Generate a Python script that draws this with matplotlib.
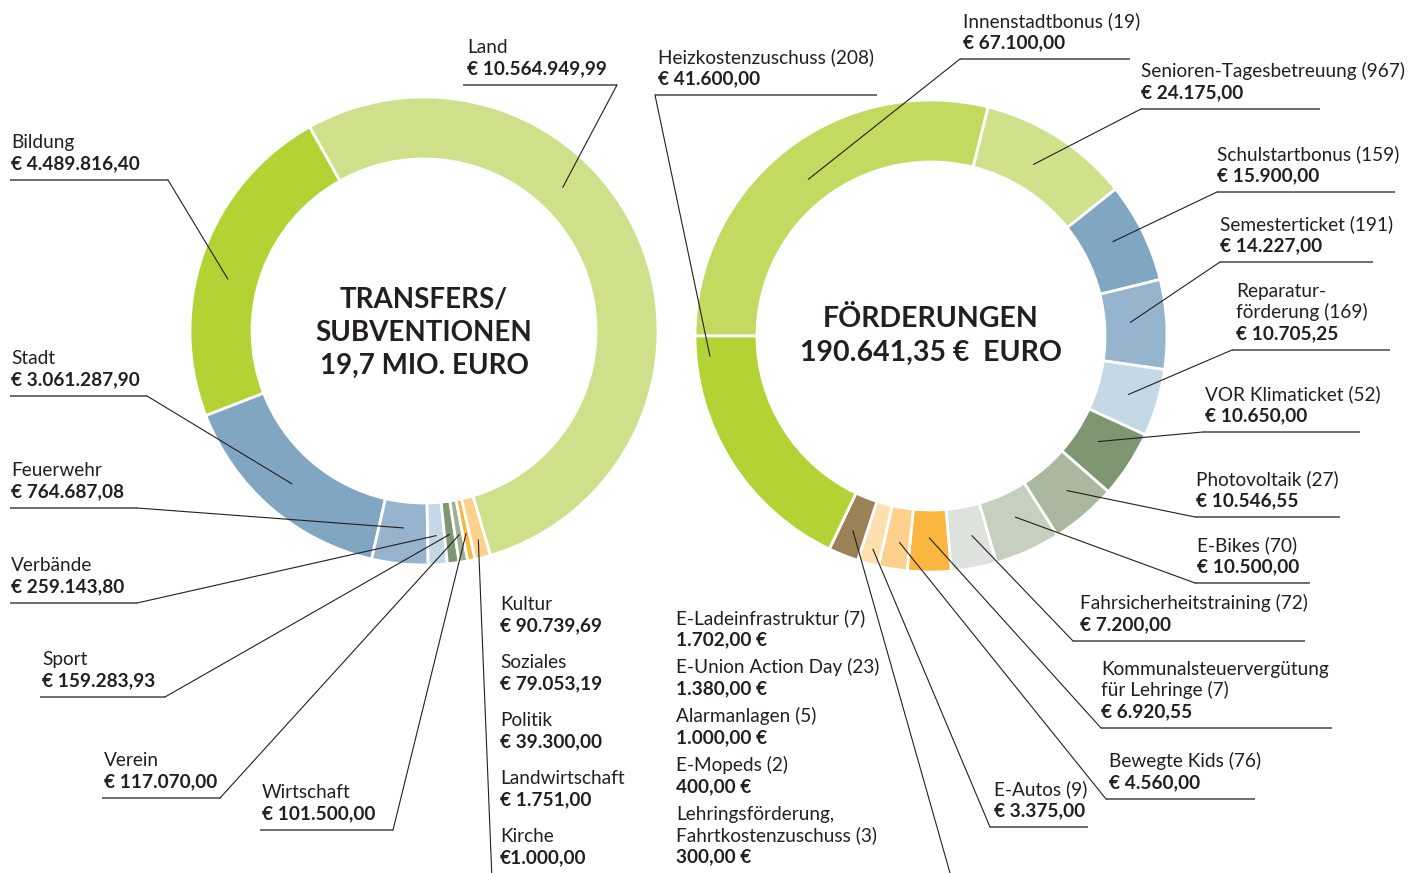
import matplotlib
matplotlib.use("Agg")
import matplotlib.pyplot as plt
import numpy as np

plt.rcParams['font.family'] = ['Lato', 'DejaVu Sans']

TEXT = '#231f20'
FS = 13.7

# ---------------- left donut: transfers / subventions ----------------
left_names = ['Land', 'Bildung', 'Stadt', 'Feuerwehr', 'Verbände', 'Sport', 'Verein',
              'Wirtschaft', 'Kultur', 'Soziales', 'Politik', 'Landwirtschaft', 'Kirche']
left_values = [10564949.99, 4489816.40, 3061287.90, 764687.08, 259143.80, 159283.93,
               117070.00, 101500.00, 90739.69, 79053.19, 39300.00, 1751.00, 1000.00]
left_texts = ['€ 10.564.949,99', '€ 4.489.816,40', '€ 3.061.287,90', '€ 764.687,08',
              '€ 259.143,80', '€ 159.283,93', '€ 117.070,00', '€ 101.500,00',
              '€ 90.739,69', '€ 79.053,19', '€ 39.300,00', '€ 1.751,00', '€1.000,00']
left_colors = ['#cfe08a', '#b3d334', '#80a6c2', '#97b4ce', '#c5d8e6', '#7f9673',
               '#9db093', '#fbb540', '#fdd08c']
n_left_single = 8   # the rest is drawn as one slice

# ---------------- right donut: Förderungen ----------------
right_names = ['Innenstadtbonus (19)', 'Senioren-Tagesbetreuung (967)', 'Schulstartbonus (159)',
               'Semesterticket (191)', 'Reparatur-\nförderung (169)', 'VOR Klimaticket (52)',
               'Photovoltaik (27)', 'E-Bikes (70)', 'Fahrsicherheitstraining (72)',
               'Kommunalsteuervergütung\nfür Lehringe (7)', 'Bewegte Kids (76)', 'E-Autos (9)']
right_values = [67100.00, 24175.00, 15900.00, 14227.00, 10705.25, 10650.00, 10546.55,
                10500.00, 7200.00, 6920.55, 4560.00, 3375.00]
right_texts = ['€ 67.100,00', '€ 24.175,00', '€ 15.900,00', '€ 14.227,00', '€ 10.705,25',
               '€ 10.650,00', '€ 10.546,55', '€ 10.500,00', '€ 7.200,00', '€ 6.920,55',
               '€ 4.560,00', '€ 3.375,00']
small_names = ['E-Ladeinfrastruktur (7)', 'E-Union Action Day (23)', 'Alarmanlagen (5)',
               'E-Mopeds (2)', 'Lehringsförderung,\nFahrtkostenzuschuss (3)']
small_values = [1702.00, 1380.00, 1000.00, 400.00, 300.00]
small_texts = ['1.702,00 €', '1.380,00 €', '1.000,00 €', '400,00 €', '300,00 €']
heiz_name = 'Heizkostenzuschuss (208)'
heiz_value = 41600.00
heiz_text = '€ 41.600,00'
right_colors = ['#c2da5f', '#d0e18b', '#80a6c2', '#97b4ce', '#c5d8e6', '#7f9673', '#a9b89e',
                '#c6d0bf', '#dde3dc', '#fbb640', '#fdd08c', '#fde0ae', '#9c8157', '#b3d334']

# label layout: text x, y of underline, underline x0/x1, elbow side, anchor fraction, anchor radius
left_layout = [
    (467, 85, 463, 617, 'r', 0.38, 200),
    (11, 180, 10, 168, 'r', 0.44, 203),
    (11, 396, 10, 147, 'r', 0.5, 202),
    (11, 508, 10, 137, 'r', 0.5, 198),
    (11, 603, 10, 137, 'r', 0.5, 205),
    (42, 697, 40, 165, 'r', 0.5, 205),
    (104, 798, 102, 220, 'r', 0.5, 207),
    (262, 830, 260, 393, 'r', 0.5, 207),
]
right_layout = [
    (963, 59, 960, 1130, 'l', 0.5, 199),
    (1141, 109, 1141, 1320, 'l', 0.45, 200),
    (1217, 192, 1217, 1395, 'l', 0.45, 205),
    (1220, 262, 1220, 1373, 'l', 0.45, 200),
    (1236, 350, 1232, 1390, 'l', 0.5, 206),
    (1205, 432, 1203, 1360, 'l', 0.45, 198),
    (1196, 517, 1195, 1340, 'l', 0.45, 206),
    (1197, 583, 1195, 1310, 'l', 0.45, 200),
    (1080, 641, 1073, 1305, 'l', 0.4, 204),
    (1101, 728, 1101, 1332, 'l', 0.5, 202),
    (1109, 799, 1106, 1255, 'l', 0.4, 209),
    (994, 827, 990, 1088, 'l', 0.45, 221),
]
heiz_layout = (658, 95, 655, 877, 'l', 0.92, 222)

L_CENTER, L_R = (424, 331), 234
R_CENTER, R_R = (931, 336), 236
RING = 62

fig = plt.figure(figsize=(14.1, 8.73), dpi=100)
ax = fig.add_axes([0, 0, 1, 1])


def anchor(w, frac, rad):
    a = np.deg2rad(w.theta1 + frac * (w.theta2 - w.theta1))
    return w.center[0] + rad * np.cos(a), w.center[1] + rad * np.sin(a)


def draw_label(x, yl, x0, x1, side, name, value, target):
    ax.text(x, yl - 11, value, fontsize=FS, fontweight='bold', color=TEXT, va='baseline')
    for i, ln in enumerate(reversed(name.split('\n'))):
        ax.text(x, yl - 32 - 21 * i, ln, fontsize=FS, color=TEXT, va='baseline')
    ax.plot([x0, x1], [yl, yl], color='#555555', lw=1.2, solid_capstyle='butt')
    ex = x0 if side == 'l' else x1
    ax.plot([ex, target[0]], [yl, target[1]], color=TEXT, lw=0.8)


# left pie (y axis is inverted, so clockwise in data = counter-clockwise on screen)
l_slices = left_values[:n_left_single] + [sum(left_values[n_left_single:])]
lw_, _ = ax.pie(l_slices, colors=left_colors, center=L_CENTER, radius=L_R,
                startangle=73.5, counterclock=False,
                wedgeprops=dict(width=RING, edgecolor='white', linewidth=2))

r_slices = right_values + [sum(small_values), heiz_value]
rw_, _ = ax.pie(r_slices, colors=right_colors, center=R_CENTER, radius=R_R,
                startangle=180, counterclock=True,
                wedgeprops=dict(width=RING, edgecolor='white', linewidth=2))

ax.set_xlim(0, 1410)
ax.set_ylim(873, 0)
ax.set_aspect('equal')
ax.axis('off')

for i, lay in enumerate(left_layout):
    x, yl, x0, x1, side, fr, rad = lay
    draw_label(x, yl, x0, x1, side, left_names[i], left_texts[i], anchor(lw_[i], fr, rad))

for i, lay in enumerate(right_layout):
    x, yl, x0, x1, side, fr, rad = lay
    draw_label(x, yl, x0, x1, side, right_names[i], right_texts[i], anchor(rw_[i], fr, rad))

x, yl, x0, x1, side, fr, rad = heiz_layout
draw_label(x, yl, x0, x1, side, heiz_name, heiz_text, anchor(rw_[-1], fr, rad))

# grouped small items, listed under the donuts
for k in range(n_left_single, len(left_names)):
    yb = 610 + 58 * (k - n_left_single)
    ax.text(500, yb, left_names[k], fontsize=FS, color=TEXT, va='baseline')
    ax.text(500, yb + 21, left_texts[k], fontsize=FS, fontweight='bold', color=TEXT, va='baseline')
ga = anchor(lw_[-1], 0.5, 216)
ax.plot([ga[0], 492], [ga[1], 880], color=TEXT, lw=0.8)

for k in range(len(small_names)):
    yb = 624 + 49 * k
    lines = small_names[k].split('\n')
    for j, ln in enumerate(lines):
        ax.text(676, yb + 21 * j, ln, fontsize=FS, color=TEXT, va='baseline')
    ax.text(676, yb + 21 * len(lines), small_texts[k], fontsize=FS, fontweight='bold',
            color=TEXT, va='baseline')
ga = anchor(rw_[-2], 0.5, 210)
ax.plot([ga[0], 952], [ga[1], 880], color=TEXT, lw=0.8)

# centre titles
ax.text(L_CENTER[0], 333, 'TRANSFERS/\nSUBVENTIONEN\n19,7 MIO. EURO', fontsize=20,
        fontweight='bold', color=TEXT, ha='center', va='center', linespacing=1.34)
ax.text(R_CENTER[0], 336, 'FÖRDERUNGEN\n190.641,35 €  EURO', fontsize=20.5,
        fontweight='bold', color=TEXT, ha='center', va='center', linespacing=1.34)

fig.savefig('out.png', dpi=100)
